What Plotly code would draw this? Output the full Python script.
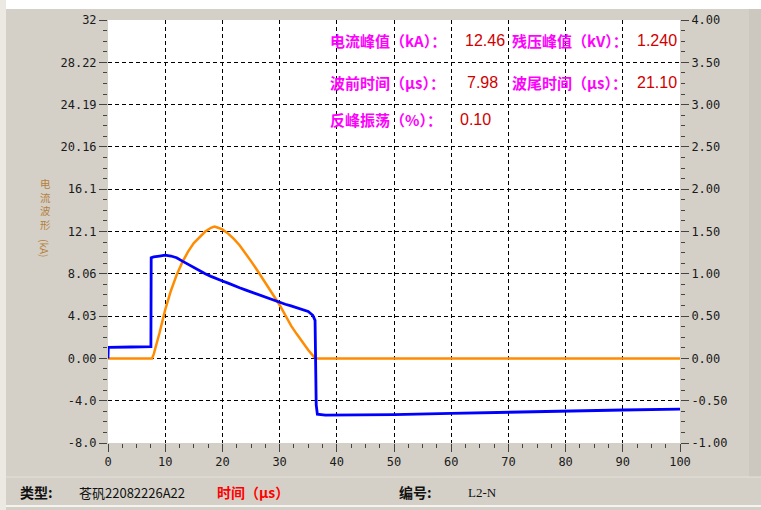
import plotly.graph_objects as go

# ---------------- data ----------------
current_t = [0, 2, 4, 6, 7.7, 8, 8.5, 9, 9.5, 10, 11, 12, 13, 14, 15, 16, 17, 18, 18.6, 19, 20, 21, 22,
             23, 24, 25, 26, 27, 28, 29, 30, 31, 32, 33, 34, 35, 36, 36.4, 40, 50, 60, 70, 80, 90, 100]
current_kA = [0.0, 0.0, 0.0, 0.0, 0.0, 0.4, 1.3, 2.4, 3.5, 4.6, 6.4, 7.9, 9.1, 10.1, 10.9, 11.5, 12.0, 12.35, 12.46, 12.4, 12.2, 11.8, 11.3,
              10.7, 10.0, 9.2, 8.4, 7.6, 6.8, 5.9, 5.05, 4.1, 3.1, 2.3, 1.5, 0.8, 0.15, 0.0, 0.0, 0.0, 0.0, 0.0, 0.0, 0.0, 0.0]

voltage_t = [0, 0.05, 4, 7.5, 7.55, 8, 9, 10, 11, 12, 13, 14, 15, 16, 17, 18, 19, 20, 21, 22, 23, 24, 25,
             26, 27, 28, 29, 30, 31, 32, 33, 34, 35, 35.8, 36.2, 36.4, 36.6, 38, 45, 50, 60, 70, 80, 90, 100]
voltage_kV = [0.0, 0.13, 0.135, 0.14, 1.19, 1.20, 1.21, 1.22, 1.21, 1.19, 1.15, 1.11, 1.07, 1.03, 1.00, 0.97, 0.94, 0.915, 0.89, 0.86, 0.835, 0.81, 0.785,
              0.76, 0.735, 0.71, 0.685, 0.66, 0.64, 0.62, 0.60, 0.58, 0.555, 0.51, 0.45, -0.55, -0.66, -0.67, -0.67, -0.665, -0.65, -0.635, -0.62, -0.61, -0.60]

left_tickvals = [-8, -4, 0, 4, 8, 12, 16, 20, 24, 28, 32]
left_ticktext = ["-8.0", "-4.0", "0.00", "4.03", "8.06", "12.1", "16.1", "20.16", "24.19", "28.22", "32"]
right_tickvals = [-1, -0.5, 0, 0.5, 1, 1.5, 2, 2.5, 3, 3.5, 4]
right_ticktext = ["-1.00", "-0.50", "0.00", "0.50", "1.00", "1.50", "2.00", "2.50", "3.00", "3.50", "4.00"]
x_tickvals = [0, 10, 20, 30, 40, 50, 60, 70, 80, 90, 100]

info_labels = ["电流峰值（kA）：", "残压峰值（kV）：", "波前时间（μs）：", "波尾时间（μs）：", "反峰振荡（%）："]
info_values = ["12.46", "1.240", "7.98", "21.10", "0.10"]

# ---------------- layout helpers ----------------
W, H = 761, 510
L, R, T, B = 108, 680, 20, 443


def px(x):
    return (x - L) / (R - L)


def py(y):
    return (B - y) / (B - T)


fig = go.Figure()
fig.add_trace(go.Scatter(x=current_t, y=current_kA, mode="lines",
                         line=dict(color="#ff8c00", width=2.5), yaxis="y", showlegend=False))
fig.add_trace(go.Scatter(x=voltage_t, y=voltage_kV, mode="lines",
                         line=dict(color="#0000ff", width=2.8), yaxis="y2", showlegend=False))

tickfont = dict(family="DejaVu Sans Mono", size=12, color="#1a1a1a")
fig.update_layout(
    width=W, height=H,
    margin=dict(l=L, r=W - R, t=T, b=H - B, autoexpand=False),
    paper_bgcolor="#d4d0c8",
    plot_bgcolor="#ffffff",
    xaxis=dict(range=[0, 100], tickvals=x_tickvals, ticks="outside", ticklen=8, tickcolor="#444",
               showgrid=True, gridcolor="#000", griddash="4px,3px", gridwidth=1, automargin=False,
               zeroline=False, showline=False, tickfont=tickfont,
               minor=dict(dtick=2.5, ticks="outside", ticklen=4, tickcolor="#444", showgrid=False)),
    yaxis=dict(range=[-8, 32], tickvals=left_tickvals, ticktext=left_ticktext,
               ticks="outside", ticklen=8, tickcolor="#444", automargin=False,
               showgrid=True, gridcolor="#000", griddash="4px,3px", gridwidth=1,
               zeroline=False, showline=False, tickfont=tickfont,
               minor=dict(dtick=1, ticks="outside", ticklen=4, tickcolor="#444", showgrid=False)),
    yaxis2=dict(range=[-1, 4], tickvals=right_tickvals, ticktext=right_ticktext, overlaying="y", side="right",
                ticks="outside", ticklen=8, tickcolor="#444", showgrid=False, zeroline=False, showline=False,
                tickfont=tickfont, automargin=False,
                minor=dict(dtick=0.125, ticks="outside", ticklen=4, tickcolor="#444", showgrid=False)),
)

shapes = [
    # white band at top
    dict(type="rect", xref="paper", yref="paper", x0=px(5), x1=px(761), y0=py(9), y1=py(0),
         fillcolor="#ffffff", line=dict(width=0), layer="below"),
    # light strip at left
    dict(type="rect", xref="paper", yref="paper", x0=px(0), x1=px(6), y0=py(510), y1=py(0),
         fillcolor="#ebe9e1", line=dict(width=0), layer="below"),
    # darker strip at right
    dict(type="rect", xref="paper", yref="paper", x0=px(749), x1=px(761), y0=py(477), y1=py(9),
         fillcolor="#ccc8c0", line=dict(width=0), layer="below"),
    # separator lines at bottom
    dict(type="line", xref="paper", yref="paper", x0=px(6), x1=px(761), y0=py(477), y1=py(477),
         line=dict(color="#e4e1da", width=1)),
    dict(type="line", xref="paper", yref="paper", x0=px(6), x1=px(761), y0=py(506), y1=py(506),
         line=dict(color="#f4f3ef", width=2)),
]
fig.update_layout(shapes=shapes)

cjk = "Noto Sans CJK SC"
ann = []
label_pos = [(328, 41), (510, 41), (328, 82), (510, 82), (328, 119)]
for (x, y), txt in zip(label_pos, info_labels):
    ann.append(dict(x=px(x), y=py(y), xref="paper", yref="paper", xanchor="left", yanchor="middle",
                    text="<b>" + txt + "</b>", showarrow=False,
                    font=dict(family=cjk, size=15, color="#ff00ff")))
value_pos = [(463, 41, "left"), (679, 41, "right"), (465, 82, "left"), (679, 82, "right"), (458, 119, "left")]
for (x, y, anc), txt in zip(value_pos, info_values):
    ann.append(dict(x=px(x), y=py(y), xref="paper", yref="paper", xanchor=anc, yanchor="middle",
                    text=txt, showarrow=False,
                    font=dict(family="Liberation Sans", size=16, color="#d00000")))

# y axis title (vertical, stacked characters)
ann.append(dict(x=px(45), y=py(204), xref="paper", yref="paper", xanchor="center", yanchor="middle",
                text="电<br>流<br>波<br>形", showarrow=False,
                font=dict(family=cjk, size=10.5, color="#b5813a")))
ann.append(dict(x=px(45), y=py(248), xref="paper", yref="paper", xanchor="center", yanchor="middle",
                text="(kA)", textangle=90, showarrow=False, font=dict(family=cjk, size=10, color="#b5813a")))

# bottom info row
ann += [
    dict(x=px(18), y=py(492), text="<b>类型:</b>", font=dict(family=cjk, size=14, color="#111")),
    dict(x=px(77), y=py(492), text="苍矾22082226A22", font=dict(family=cjk, size=13, color="#111")),
    dict(x=px(215), y=py(492), text="<b>时间（μs）</b>", font=dict(family=cjk, size=14, color="#ff0000")),
    dict(x=px(397), y=py(492), text="<b>编号:</b>", font=dict(family=cjk, size=14, color="#111")),
    dict(x=px(466), y=py(492), text="L2-N", font=dict(family="Liberation Serif", size=13, color="#111")),
]
for a in ann[-5:]:
    a.update(xref="paper", yref="paper", xanchor="left", yanchor="middle", showarrow=False)

fig.update_layout(annotations=ann)
fig.write_html("out.html", config={"displayModeBar": False},
               post_script="document.body.style.margin='0px';")
